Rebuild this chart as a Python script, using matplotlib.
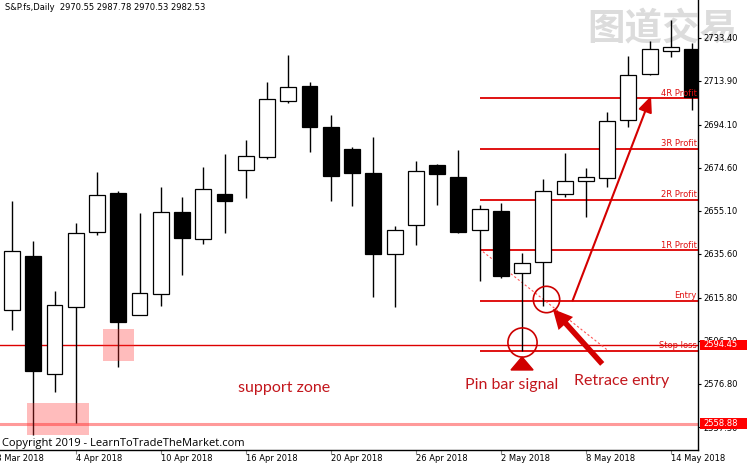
import matplotlib
matplotlib.use("Agg")
import matplotlib.pyplot as plt
from matplotlib.patches import Rectangle, Polygon

# S&P.fs daily candles, 29 Mar 2018 .. 15 May 2018
opens = [2610.2, 2634.8, 2581.2, 2611.7, 2645.4, 2663.0, 2608.0, 2617.3, 2654.7, 2642.4, 2662.7,
         2673.6, 2679.4, 2704.8, 2711.6, 2692.9, 2683.2, 2672.1, 2635.4, 2648.8, 2675.7, 2670.5,
         2646.4, 2655.2, 2626.8, 2632.1, 2662.7, 2668.5, 2669.8, 2696.2, 2717.0, 2727.4, 2728.3]
highs = [2659.7, 2641.6, 2618.7, 2649.7, 2672.7, 2664.1, 2654.0, 2666.0, 2661.2, 2675.1, 2680.7,
         2687.1, 2713.5, 2725.6, 2713.2, 2698.3, 2683.8, 2688.6, 2648.2, 2677.8, 2676.3, 2682.6,
         2657.6, 2658.8, 2635.9, 2669.4, 2681.4, 2674.3, 2699.9, 2725.1, 2732.0, 2741.4, 2731.1]
lows = [2601.2, 2553.7, 2573.3, 2559.3, 2644.2, 2584.3, 2608.0, 2612.2, 2626.1, 2640.1, 2645.1,
        2660.8, 2678.6, 2703.7, 2681.6, 2659.7, 2657.4, 2616.0, 2611.6, 2639.6, 2657.7, 2645.0,
        2623.5, 2624.6, 2591.8, 2612.2, 2661.2, 2652.2, 2666.0, 2693.1, 2716.5, 2724.8, 2700.7]
closes = [2637.1, 2582.7, 2612.6, 2644.9, 2662.3, 2604.7, 2618.1, 2654.4, 2642.7, 2665.0, 2659.4,
          2679.9, 2705.8, 2711.0, 2693.0, 2671.0, 2672.2, 2635.7, 2646.3, 2673.0, 2671.6, 2645.4,
          2655.8, 2625.6, 2631.4, 2663.9, 2668.7, 2670.5, 2695.9, 2716.5, 2728.3, 2729.3, 2706.4]

date_pos = [-1, 3, 7, 11, 15, 19, 23, 27, 31]
date_labels = ['28 Mar 2018', '4 Apr 2018', '10 Apr 2018', '16 Apr 2018', '20 Apr 2018',
               '26 Apr 2018', '2 May 2018', '8 May 2018', '14 May 2018']
price_ticks = [2733.40, 2713.90, 2694.10, 2674.60, 2655.10, 2635.60, 2615.80, 2596.30, 2576.80, 2557.30]

# trade levels
level_names = ['4R Profit', '3R Profit', '2R Profit', '1R Profit', 'Entry', 'Stop loss']
level_prices = [2706.0, 2683.1, 2660.0, 2637.2, 2614.5, 2591.8]
level_start = 22
hline_price = 2594.45
support_price = 2558.88

# support zone boxes (x0, x1, y0, y1)
zones = [(0.69, 3.62, 2553.7, 2568.2), (4.28, 5.74, 2587.3, 2601.7)]

red = '#dd0000'
txt_red = '#c3161c'

fig = plt.figure(figsize=(7.47, 4.69), dpi=100)
ax = fig.add_axes([0, 19 / 469, 698 / 747, 450 / 469])
ax.set_xlim(-0.565, 32.28)
ax.set_ylim(2546.9, 2750.45)

# candles
n = len(opens)
for i in range(n):
    o, h, l, c = opens[i], highs[i], lows[i], closes[i]
    ax.vlines(i, l, h, color='black', lw=1, zorder=3)
    ax.bar(i, abs(c - o) if abs(c - o) > 0.3 else 0.3, bottom=min(o, c), width=0.75,
           color='black' if c < o else 'white', edgecolor='black', lw=0.9, zorder=4)

# support zones
for x0, x1, y0, y1 in zones:
    ax.add_patch(Rectangle((x0, y0), x1 - x0, y1 - y0, facecolor='#ff3030', alpha=0.32,
                           edgecolor='none', zorder=5))

# horizontal lines
ax.axhline(hline_price, color=red, lw=1, zorder=2)
ax.axhline(support_price, color='#ff9a9a', lw=2.2, zorder=2)
ax.hlines(level_prices, level_start, 32.28, color=red, lw=1.3, zorder=2)
for name, p in zip(level_names, level_prices):
    ax.annotate(name, xy=(1, p), xycoords=ax.get_yaxis_transform(), xytext=(-1, 0.5),
                textcoords='offset points', ha='right', va='bottom', fontsize=6,
                color='#e01010', zorder=6)

# dotted trend line from 1R level to stop loss
ax.plot([22.16, 28.06], [2636.6, 2591.8], color='#ff5555', lw=0.8, ls=(0, (2, 2)), zorder=2)

# circles, triangle and arrows
ax.plot(24, 2595.6, marker='o', ms=21, mfc='none', mec='#cc0000', mew=1.2, zorder=6)
ax.plot(25.15, 2615.2, marker='o', ms=19, mfc='none', mec='#cc0000', mew=1.2, zorder=6)
ax.add_patch(Polygon([(23.48, 2583.1), (24.52, 2583.1), (24, 2589.0)], closed=True,
                     color='#d00000', zorder=6))
ax.annotate('', xy=(25.36, 2611.6), xytext=(27.86, 2584.9),
            arrowprops=dict(arrowstyle='simple,head_width=1.4,head_length=1.4,tail_width=0.4',
                            mutation_scale=10, color='#d40000', lw=0), zorder=7)
ax.annotate('', xy=(30.07, 2707.0), xytext=(26.38, 2614.5),
            arrowprops=dict(arrowstyle='-|>,head_width=0.35,head_length=0.8', mutation_scale=12,
                            color='#d40000', lw=1.5, shrinkA=0, shrinkB=0), zorder=7)

# annotation texts
ax.text(12.8, 2573.3, 'support zone', fontsize=11.5, family='Lato', color=txt_red,
        ha='center', va='baseline', zorder=6)
ax.text(23.5, 2574.4, 'Pin bar signal', fontsize=11.5, family='Lato', color=txt_red,
        ha='center', va='baseline', zorder=6)
ax.text(28.7, 2576.3, 'Retrace entry', fontsize=11.5, family='Lato', color=txt_red,
        ha='center', va='baseline', zorder=6)

# axes styling
for s in ['left', 'top']:
    ax.spines[s].set_visible(False)
for s in ['right', 'bottom']:
    ax.spines[s].set_linewidth(1)
ax.yaxis.tick_right()
ax.set_yticks(price_ticks)
ax.set_yticklabels(['%.2f' % p for p in price_ticks])
ax.tick_params(axis='y', length=2, pad=2, labelsize=6, colors='black')
ax.set_xticks(date_pos[1:])
ax.set_xticklabels([])
ax.tick_params(axis='x', length=3, color='#888888')
for p, lab in zip(date_pos, date_labels):
    ax.text(p, -0.008, lab, transform=ax.get_xaxis_transform(), ha='left', va='top',
            fontsize=6, clip_on=False)

# right side price boxes
for p in [hline_price, support_price]:
    ax.add_patch(Rectangle((1.003, p - 2.4), 0.07, 4.8, transform=ax.get_yaxis_transform(),
                           facecolor='#ff0000', edgecolor='none', clip_on=False, zorder=8))
    ax.annotate('%.2f' % p, xy=(1, p), xycoords=ax.get_yaxis_transform(), xytext=(4, 0),
                textcoords='offset points', ha='left', va='center', fontsize=6,
                color='white', zorder=9, annotation_clip=False)

# header, copyright, watermark
fig.text(5 / 747, 1 - 7 / 469, 'S&P.fs,Daily  2970.55 2987.78 2970.53 2982.53',
         fontsize=6, va='center', ha='left')
fig.text(2 / 747, 1 - 443 / 469, 'Copyright 2019 - LearnToTradeTheMarket.com',
         fontsize=8, family='Open Sans', va='center', ha='left')
ax.text(662 / 747, 1 - 29 / 469, '图道交易', transform=fig.transFigure, fontsize=27,
        family=['Noto Sans CJK SC', 'DejaVu Sans'], weight='bold', color='#dcdcdc',
        ha='center', va='center', zorder=1, clip_on=False)

fig.savefig('out.png', dpi=100, facecolor='white')
